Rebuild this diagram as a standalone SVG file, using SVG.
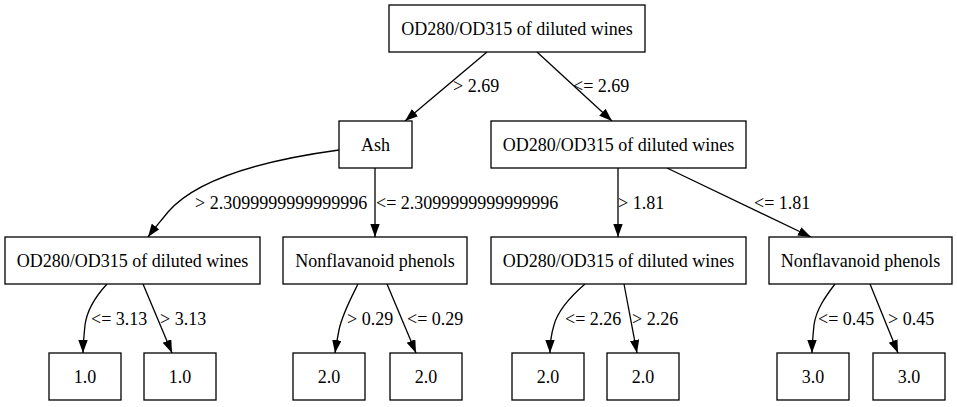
<svg xmlns="http://www.w3.org/2000/svg" width="957" height="407" viewBox="0 0 957 407" font-family="'Liberation Serif', 'Times New Roman', Times, 'DejaVu Serif', serif">
<style>
.n rect{fill:#fff;stroke:#000;stroke-width:1.3}
text{font-family:'Liberation Serif','Times New Roman',Times,'DejaVu Serif',serif;font-size:18px;fill:#000}
.n text{text-anchor:middle}
.e path{fill:none;stroke:#000;stroke-width:1.3}
</style>
<defs>
<marker id="ah" markerUnits="userSpaceOnUse" markerWidth="14" markerHeight="10" refX="13" refY="4.7" orient="auto">
<path d="M0,0 L13,4.7 L0,9.4 z" fill="#000"/>
</marker>
</defs>
<rect width="957" height="407" fill="#fff"/>
<g id="edges" class="e">
<path d="M487,52 L405,121" marker-end="url(#ah)"/>
<text x="453" y="92">&gt; 2.69</text>
<path d="M537,52 L612,121" marker-end="url(#ah)"/>
<text x="573" y="92">&lt;= 2.69</text>
<path d="M339,150 C280,158 200,175 168,212 C160,222 153,230 148,237" marker-end="url(#ah)"/>
<text x="195" y="209">&gt; 2.3099999999999996</text>
<path d="M375,168 L375,237" marker-end="url(#ah)"/>
<text x="376" y="209">&lt;= 2.3099999999999996</text>
<path d="M618,168 L618,237" marker-end="url(#ah)"/>
<text x="618" y="209">&gt; 1.81</text>
<path d="M667,168 L811,237" marker-end="url(#ah)"/>
<text x="754" y="209">&lt;= 1.81</text>
<path d="M107,284 C95,297 87,310 85,325 C84,335 83,345 83,353" marker-end="url(#ah)"/>
<text x="91" y="325">&lt;= 3.13</text>
<path d="M143,284 L172,353" marker-end="url(#ah)"/>
<text x="160" y="325">&gt; 3.13</text>
<path d="M358,284 C350,300 342,315 339,330 C337,340 336,346 335,353" marker-end="url(#ah)"/>
<text x="347" y="325">&gt; 0.29</text>
<path d="M387,284 L416,353" marker-end="url(#ah)"/>
<text x="407" y="325">&lt;= 0.29</text>
<path d="M585,284 C570,297 558,310 554,325 C551,335 550,345 550,353" marker-end="url(#ah)"/>
<text x="565" y="325">&lt;= 2.26</text>
<path d="M624,284 L637,353" marker-end="url(#ah)"/>
<text x="632" y="325">&gt; 2.26</text>
<path d="M835,284 C825,297 816,310 814,325 C813,335 812,345 812,353" marker-end="url(#ah)"/>
<text x="818" y="325">&lt;= 0.45</text>
<path d="M870,284 L898,353" marker-end="url(#ah)"/>
<text x="888" y="325">&gt; 0.45</text>
</g>
<g id="root" class="n"><rect x="389" y="5" width="256" height="47"/><text x="517" y="35">OD280/OD315 of diluted wines</text></g>
<g id="ash" class="n"><rect x="339" y="121" width="73" height="47"/><text x="375.5" y="151">Ash</text></g>
<g id="od1" class="n"><rect x="491" y="121" width="255" height="47"/><text x="618.5" y="151">OD280/OD315 of diluted wines</text></g>
<g id="od2" class="n"><rect x="5" y="237" width="255" height="47"/><text x="132.5" y="267">OD280/OD315 of diluted wines</text></g>
<g id="nf1" class="n"><rect x="283" y="237" width="184" height="47"/><text x="375" y="267">Nonflavanoid phenols</text></g>
<g id="od3" class="n"><rect x="491" y="237" width="255" height="47"/><text x="618.5" y="267">OD280/OD315 of diluted wines</text></g>
<g id="nf2" class="n"><rect x="769" y="237" width="183" height="47"/><text x="860.5" y="267">Nonflavanoid phenols</text></g>
<g id="l1" class="n"><rect x="49" y="353" width="72" height="47"/><text x="85" y="383">1.0</text></g>
<g id="l2" class="n"><rect x="144" y="353" width="72" height="47"/><text x="180" y="383">1.0</text></g>
<g id="l3" class="n"><rect x="293" y="353" width="72" height="47"/><text x="329" y="383">2.0</text></g>
<g id="l4" class="n"><rect x="390" y="353" width="72" height="47"/><text x="426" y="383">2.0</text></g>
<g id="l5" class="n"><rect x="512" y="353" width="72" height="47"/><text x="548" y="383">2.0</text></g>
<g id="l6" class="n"><rect x="607" y="353" width="72" height="47"/><text x="643" y="383">2.0</text></g>
<g id="l7" class="n"><rect x="777" y="353" width="72" height="47"/><text x="813" y="383">3.0</text></g>
<g id="l8" class="n"><rect x="873" y="353" width="72" height="47"/><text x="909" y="383">3.0</text></g>
</svg>
